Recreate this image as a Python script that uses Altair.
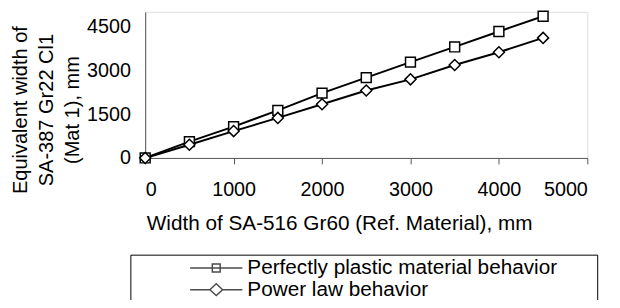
import altair as alt
import pandas as pd

x_vals = [0, 500, 1000, 1500, 2000, 2500, 3000, 3500, 4000, 4500]
plastic = [0, 560, 1070, 1630, 2220, 2750, 3280, 3800, 4330, 4850]
power = [0, 450, 920, 1370, 1840, 2310, 2690, 3180, 3620, 4110]
series_names = ["Perfectly plastic material behavior", "Power law behavior"]
x_ticks = [0, 1000, 2000, 3000, 4000, 5000]
y_ticks = [0, 1500, 3000, 4500]

rows = []
for xv, a, b in zip(x_vals, plastic, power):
    rows.append({"x": xv, "y": a, "series": series_names[0]})
    rows.append({"x": xv, "y": b, "series": series_names[1]})
df = pd.DataFrame(rows)

FONT = "Liberation Sans"
AX = "#555555"

sq_path = "M-2.79,0H2.79M-0.42,-0.42H0.42V0.42H-0.42Z"
di_path = "M-2.79,0H-0.68M0.68,0H2.79M-0.68,0L0,-0.63L0.68,0L0,0.63Z"

xenc = alt.X("x:Q", scale=alt.Scale(domain=[0, 5000], nice=False),
             axis=alt.Axis(values=x_ticks, format="d", grid=False, tickSize=6,
                           tickColor=AX, domainColor=AX, labelPadding=16.5,
                           labelFontSize=20, labelFont=FONT, labelColor="black",
                           title="Width of SA-516 Gr60 (Ref. Material), mm",
                           titleFont=FONT, titleFontSize=21, titleFontWeight="normal",
                           titleColor="black", titleX=196.5, titleY=72,
                           titleBaseline="alphabetic", titleAlign="center",
                           titleAnchor="start"))
yenc = alt.Y("y:Q", scale=alt.Scale(domain=[0, 5000], nice=False),
             axis=alt.Axis(values=y_ticks, format="d", grid=False, ticks=False,
                           tickSize=0, domainColor=AX, labelPadding=15,
                           labelFontSize=20, labelFont=FONT, labelColor="black",
                           title=["Equivalent width of", "SA-387 Gr22 Cl1", "(Mat 1), mm"],
                           titleFont=FONT, titleFontSize=20.3, titleFontWeight="normal",
                           titleColor="black", titleX=-126, titleY=99, titleAngle=270,
                           titleBaseline="middle", titleAlign="center",
                           titleLineHeight=26, titleAnchor="start"))

lines = alt.Chart(df).mark_line(color="black", strokeWidth=2).encode(
    x=xenc, y=yenc, detail="series:N")

points = alt.Chart(df).mark_point(filled=False, fill="white", stroke="black",
                                  strokeWidth=1.5, opacity=1).encode(
    x=xenc, y=yenc,
    shape=alt.Shape("series:N", scale=alt.Scale(domain=series_names,
                                                range=["square", "diamond"]),
                    legend=None),
    size=alt.Size("series:N", scale=alt.Scale(domain=series_names, range=[100, 125]),
                  legend=None))

legend_layer = alt.Chart(df).transform_filter("false").mark_point(
    filled=False, color="black").encode(
    shape=alt.Shape("series:N", scale=alt.Scale(domain=series_names,
                                                range=[sq_path, di_path]),
                    legend=alt.Legend(orient="none", legendX=-15, legendY=246,
                                      padding=3, strokeColor="black", fillColor="white",
                                      title=["\u00a0", "\u00a0", "\u00a0"],
                                      titleOrient="right", titlePadding=38,
                                      titleLineHeight=22, titleFontSize=19,
                                      titleBaseline="top",
                                      labelFont=FONT, labelFontSize=21,
                                      labelColor="black", symbolSize=361,
                                      symbolStrokeWidth=1.5, symbolStrokeColor="black",
                                      symbolFillColor="transparent", symbolOffset=73.5,
                                      labelOffset=21, rowPadding=0, labelLimit=600)))

chart = alt.layer(lines, points, legend_layer).resolve_scale(
    shape="independent", size="independent"
).properties(
    width=448, height=148,
    autosize=alt.AutoSizeParams(type="none"),
    padding={"left": 139, "top": 2, "right": 25, "bottom": 142},
).configure_view(stroke=None).configure(font=FONT)

chart.save("out.html", embed_options={"renderer": "svg", "actions": False})
